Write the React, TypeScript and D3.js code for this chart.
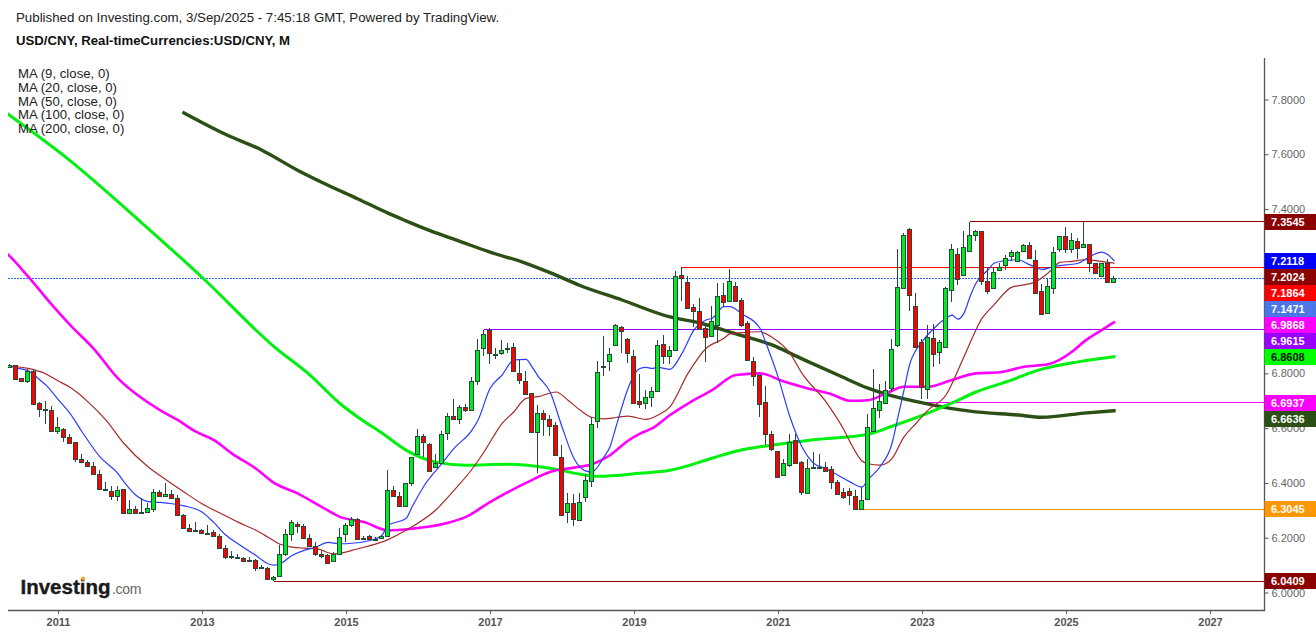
import { useEffect, useRef } from 'react';
import * as d3 from 'd3';

// monthly candles, index 0 = May 2010, index 8 = Jan 2011
const opens = [
  6.824, 6.829, 6.782, 6.773, 6.807, 6.691, 6.670, 6.668, 6.590, 6.598,
  6.566, 6.548, 6.489, 6.478, 6.463, 6.434, 6.379, 6.372, 6.352, 6.379,
  6.290, 6.306, 6.291, 6.294, 6.305, 6.368, 6.352, 6.361, 6.346, 6.284,
  6.237, 6.226, 6.229, 6.218, 6.222, 6.207, 6.163, 6.132, 6.130, 6.127,
  6.117, 6.120, 6.093, 6.090, 6.049, 6.059, 6.141, 6.215, 6.251, 6.244,
  6.200, 6.170, 6.141, 6.138, 6.115, 6.141, 6.215, 6.248, 6.270, 6.197,
  6.207, 6.195, 6.200, 6.207, 6.376, 6.354, 6.317, 6.398, 6.507, 6.573,
  6.544, 6.459, 6.474, 6.583, 6.646, 6.632, 6.679, 6.667, 6.774, 6.891,
  6.957, 6.870, 6.876, 6.888, 6.895, 6.800, 6.774, 6.727, 6.587, 6.654,
  6.635, 6.610, 6.496, 6.294, 6.328, 6.265, 6.349, 6.407, 6.627, 6.826,
  6.844, 6.905, 6.970, 6.926, 6.862, 6.701, 6.693, 6.712, 6.734, 6.906,
  6.865, 6.884, 7.159, 7.133, 7.041, 7.027, 6.965, 6.938, 6.976, 7.085,
  7.063, 7.118, 7.067, 6.983, 6.844, 6.793, 6.694, 6.577, 6.515, 6.430,
  6.466, 6.555, 6.478, 6.365, 6.460, 6.460, 6.460, 6.450, 6.405, 6.368,
  6.372, 6.354, 6.305, 6.343, 6.590, 6.667, 6.693, 6.748, 6.905, 7.111,
  7.327, 7.045, 6.913, 6.744, 6.928, 6.879, 6.895, 7.106, 7.235, 7.161,
  7.246, 7.305, 7.320, 7.137, 7.111, 7.179, 7.195, 7.228, 7.210, 7.246,
  7.268, 7.213, 7.100, 7.020, 7.113, 7.254, 7.301, 7.254, 7.283, 7.261,
  7.272, 7.202, 7.157, 7.202, 7.133,
];
const closes = [
  6.830, 6.780, 6.773, 6.807, 6.688, 6.671, 6.668, 6.590, 6.606, 6.568,
  6.546, 6.488, 6.477, 6.462, 6.433, 6.378, 6.378, 6.352, 6.376, 6.290,
  6.305, 6.290, 6.294, 6.310, 6.368, 6.352, 6.360, 6.345, 6.283, 6.235,
  6.224, 6.228, 6.217, 6.217, 6.206, 6.162, 6.129, 6.133, 6.127, 6.115,
  6.116, 6.089, 6.089, 6.049, 6.057, 6.141, 6.215, 6.257, 6.244, 6.199,
  6.170, 6.140, 6.133, 6.109, 6.140, 6.202, 6.248, 6.268, 6.196, 6.199,
  6.195, 6.196, 6.207, 6.376, 6.352, 6.317, 6.398, 6.493, 6.573, 6.550,
  6.445, 6.474, 6.580, 6.646, 6.634, 6.676, 6.667, 6.774, 6.884, 6.943,
  6.876, 6.866, 6.884, 6.891, 6.810, 6.777, 6.723, 6.587, 6.654, 6.632,
  6.607, 6.502, 6.283, 6.328, 6.268, 6.332, 6.409, 6.617, 6.805, 6.828,
  6.870, 6.977, 6.956, 6.876, 6.693, 6.689, 6.712, 6.734, 6.902, 6.865,
  6.884, 7.155, 7.148, 7.037, 7.029, 6.961, 6.934, 6.990, 7.082, 7.059,
  7.137, 7.066, 6.976, 6.848, 6.789, 6.689, 6.577, 6.524, 6.423, 6.471,
  6.550, 6.471, 6.367, 6.456, 6.459, 6.459, 6.444, 6.405, 6.361, 6.350,
  6.357, 6.305, 6.339, 6.606, 6.672, 6.698, 6.741, 6.888, 7.115, 7.305,
  7.088, 6.898, 6.751, 6.932, 6.870, 6.913, 7.111, 7.254, 7.144, 7.261,
  7.305, 7.320, 7.137, 7.099, 7.170, 7.188, 7.221, 7.243, 7.243, 7.268,
  7.221, 7.093, 7.018, 7.118, 7.243, 7.301, 7.254, 7.287, 7.257, 7.272,
  7.202, 7.165, 7.202, 7.133, 7.147,
];
const highs = [
  6.833, 6.832, 6.784, 6.815, 6.817, 6.696, 6.698, 6.680, 6.639, 6.600,
  6.577, 6.551, 6.507, 6.485, 6.476, 6.446, 6.404, 6.388, 6.388, 6.379,
  6.339, 6.315, 6.345, 6.328, 6.378, 6.376, 6.398, 6.376, 6.356, 6.288,
  6.249, 6.256, 6.232, 6.245, 6.229, 6.212, 6.173, 6.150, 6.141, 6.129,
  6.129, 6.121, 6.099, 6.093, 6.060, 6.172, 6.233, 6.266, 6.257, 6.249,
  6.215, 6.183, 6.151, 6.139, 6.149, 6.234, 6.254, 6.276, 6.273, 6.207,
  6.210, 6.202, 6.210, 6.449, 6.388, 6.368, 6.398, 6.493, 6.596, 6.580,
  6.546, 6.507, 6.588, 6.654, 6.706, 6.683, 6.688, 6.788, 6.926, 6.959,
  6.965, 6.891, 6.922, 6.910, 6.910, 6.849, 6.809, 6.729, 6.684, 6.666,
  6.648, 6.624, 6.537, 6.365, 6.361, 6.363, 6.434, 6.641, 6.844, 6.937,
  6.891, 6.979, 6.973, 6.928, 6.884, 6.798, 6.741, 6.751, 6.922, 6.939,
  6.899, 7.174, 7.188, 7.154, 7.052, 7.074, 6.977, 7.046, 7.129, 7.129,
  7.180, 7.135, 7.074, 6.991, 6.859, 6.794, 6.754, 6.589, 6.515, 6.489,
  6.580, 6.577, 6.479, 6.488, 6.512, 6.505, 6.476, 6.461, 6.410, 6.383,
  6.383, 6.373, 6.385, 6.651, 6.816, 6.763, 6.773, 6.924, 7.254, 7.312,
  7.332, 7.093, 6.924, 6.977, 6.980, 6.922, 7.115, 7.273, 7.259, 7.321,
  7.3545, 7.322, 7.321, 7.190, 7.190, 7.202, 7.233, 7.251, 7.246, 7.273,
  7.279, 7.251, 7.126, 7.145, 7.261, 7.301, 7.334, 7.312, 7.294, 7.3545,
  7.273, 7.202, 7.202, 7.217, 7.154,
];
const lows = [
  6.824, 6.780, 6.770, 6.766, 6.685, 6.639, 6.617, 6.590, 6.578, 6.550,
  6.546, 6.476, 6.476, 6.461, 6.432, 6.377, 6.378, 6.337, 6.334, 6.290,
  6.290, 6.290, 6.287, 6.293, 6.293, 6.351, 6.349, 6.345, 6.283, 6.235,
  6.221, 6.224, 6.213, 6.217, 6.206, 6.162, 6.123, 6.122, 6.124, 6.112,
  6.115, 6.080, 6.087, 6.049, 6.041, 6.059, 6.135, 6.187, 6.217, 6.198,
  6.168, 6.132, 6.127, 6.107, 6.112, 6.140, 6.185, 6.239, 6.190, 6.190,
  6.190, 6.190, 6.196, 6.207, 6.351, 6.316, 6.317, 6.389, 6.505, 6.493,
  6.444, 6.457, 6.471, 6.556, 6.633, 6.615, 6.660, 6.667, 6.759, 6.863,
  6.834, 6.852, 6.867, 6.873, 6.809, 6.761, 6.722, 6.583, 6.437, 6.571,
  6.571, 6.502, 6.283, 6.254, 6.243, 6.262, 6.329, 6.385, 6.600, 6.790,
  6.809, 6.904, 6.873, 6.837, 6.693, 6.673, 6.670, 6.678, 6.733, 6.834,
  6.834, 6.884, 7.065, 7.037, 6.971, 6.961, 6.843, 6.937, 6.912, 7.044,
  7.061, 7.063, 6.968, 6.846, 6.754, 6.641, 6.538, 6.517, 6.422, 6.429,
  6.459, 6.470, 6.356, 6.363, 6.456, 6.456, 6.444, 6.379, 6.361, 6.343,
  6.318, 6.305, 6.3045, 6.341, 6.590, 6.637, 6.693, 6.733, 6.898, 7.111,
  7.029, 6.898, 6.705, 6.707, 6.822, 6.834, 6.894, 7.059, 7.123, 7.160,
  7.245, 7.282, 7.122, 7.091, 7.110, 7.178, 7.178, 7.209, 7.209, 7.244,
  7.217, 7.089, 7.016, 7.018, 7.090, 7.243, 7.239, 7.239, 7.218, 7.260,
  7.171, 7.162, 7.154, 7.132, 7.132,
];

// moving averages: month index and price
const ma9Months = [
  0, 1, 3, 4, 5, 6, 8, 10, 12, 15, 18, 19, 21, 23, 25, 27, 29, 32, 34, 36, 38, 41, 43, 44, 45, 47, 49, 51, 53, 55, 56,
  60, 62, 63, 66, 67, 69, 72, 74, 77, 78, 80, 82, 84, 86, 87, 88, 90, 92, 94, 96, 97, 99, 100, 101, 103, 104, 105, 106,
  107, 108, 110, 112, 114, 116, 117, 119, 120, 122, 125, 126, 128, 130, 132, 134, 136, 138, 140, 142, 143, 145, 147,
  148, 149, 150, 151, 152, 154, 156, 157, 158, 159, 160, 161, 163, 164, 166, 168, 170, 172, 174, 176, 178, 180, 182, 183, 184,
];
const ma9Values = [
  6.827, 6.820, 6.810, 6.794, 6.776, 6.757, 6.705, 6.654, 6.587, 6.495, 6.434, 6.404, 6.355, 6.332, 6.329, 6.324, 6.316,
  6.294, 6.255, 6.209, 6.178, 6.135, 6.105, 6.100, 6.105, 6.135, 6.154, 6.166, 6.183, 6.178, 6.178,
  6.190, 6.209, 6.245, 6.270, 6.312, 6.389, 6.471, 6.526, 6.593, 6.629, 6.745, 6.794, 6.849, 6.851, 6.824, 6.790, 6.733,
  6.605, 6.489, 6.443, 6.440, 6.495, 6.532, 6.605, 6.745, 6.794, 6.818, 6.822,
  6.818, 6.822, 6.815, 6.873, 6.959, 6.995, 7.001, 7.044, 7.044, 7.017, 6.965, 6.910, 6.788, 6.641, 6.532, 6.471, 6.452,
  6.428, 6.404, 6.385, 6.412, 6.459, 6.544,
  6.641, 6.739, 6.837, 6.885, 6.916, 6.965, 7.001, 7.013, 6.998, 7.020, 7.080, 7.129, 7.178, 7.202, 7.212, 7.215, 7.196,
  7.180, 7.190, 7.196, 7.202, 7.227, 7.243, 7.233, 7.2118,
];
const ma20Months = [
  0, 3, 6, 8, 10, 13, 16, 19, 23, 26, 29, 32, 35, 38, 41, 43, 45, 47, 49, 51, 54, 56, 57,
  63, 66, 71, 74, 77, 79, 82, 84, 86, 88, 91, 93, 95, 97, 99, 101, 103, 106, 108, 110, 113, 116, 119, 120, 122, 125,
  127, 130, 132, 136, 139, 140, 142, 143, 145, 147, 149, 151, 153, 156, 159, 162, 164, 167, 169, 171, 173, 175, 177, 179, 181, 183, 184,
];
const ma20Values = [
  6.827, 6.818, 6.798, 6.773, 6.749, 6.696, 6.629, 6.544, 6.459, 6.412, 6.367, 6.324, 6.290, 6.257, 6.227, 6.202, 6.176,
  6.166, 6.162, 6.160, 6.141, 6.148, 6.154,
  6.193, 6.227, 6.302, 6.373, 6.450, 6.513, 6.617, 6.660, 6.709, 6.715, 6.732, 6.702, 6.666, 6.639, 6.634, 6.639, 6.644,
  6.632, 6.648, 6.678, 6.800, 6.891, 6.928, 6.944, 6.949, 6.952,
  6.932, 6.873, 6.800, 6.696, 6.593, 6.550, 6.480, 6.470, 6.465, 6.489, 6.568, 6.617, 6.666, 6.721, 6.861, 7.001, 7.050,
  7.115, 7.123, 7.135, 7.166, 7.205, 7.209, 7.215, 7.212, 7.205, 7.2024,
];
const ma50Months = [
  -1, 0, 3, 7, 10, 14, 18, 22, 25, 28, 31, 34, 37, 41, 44, 48, 52, 55, 59, 63, 67, 72, 76, 80, 86, 90, 94, 97, 100, 103,
  105, 107, 110, 113, 117, 121, 125, 129, 133, 137, 140, 143, 146, 149, 153, 157, 161, 165, 169, 173, 177, 179, 182, 184,
];
const ma50Values = [
  7.248, 7.227, 7.154, 7.050, 6.977, 6.889, 6.782, 6.709, 6.666, 6.629, 6.587, 6.556, 6.507, 6.452, 6.400, 6.361, 6.312,
  6.276, 6.257, 6.227, 6.233, 6.249, 6.276, 6.330, 6.400, 6.440, 6.456, 6.468, 6.501, 6.554,
  6.580, 6.599, 6.648, 6.690, 6.739, 6.794, 6.800, 6.770, 6.745, 6.723, 6.700, 6.702, 6.727, 6.751, 6.751, 6.776, 6.800,
  6.804, 6.824, 6.833, 6.879, 6.916, 6.959, 6.9868,
];
const ma100Months = [
  -1, 10, 22, 32, 44, 50, 55, 58, 62, 66, 71, 76, 83, 90, 95, 98, 105, 110, 117, 121, 127, 135, 143, 147, 153, 157, 161, 167, 171, 178, 184,
];
const ma100Values = [
  7.757, 7.577, 7.349, 7.151, 6.898, 6.794, 6.690, 6.640, 6.582, 6.520, 6.476, 6.465, 6.468, 6.454, 6.432, 6.424,
  6.435, 6.446, 6.490, 6.516, 6.538, 6.560, 6.578, 6.607, 6.655, 6.692, 6.732, 6.776, 6.809, 6.842, 6.8608,
];
const ma200Months = [
  29, 36, 42, 48, 53, 58, 63, 66, 70, 75, 80, 86, 90, 95, 102, 110, 115, 121, 127, 132, 138, 143, 146, 153, 160, 168, 172, 179, 184,
];
const ma200Values = [
  7.751, 7.672, 7.615, 7.541, 7.487, 7.437, 7.385, 7.357, 7.321, 7.282, 7.243, 7.202, 7.168, 7.121,
  7.068, 7.006, 6.984, 6.944, 6.904, 6.853, 6.794, 6.746, 6.724, 6.688, 6.662, 6.648, 6.640, 6.655, 6.6636,
];

// horizontal levels, they start at a month and run to the price axis
const levelValues = [7.3545, 7.1864, 6.9615, 6.6937, 6.3045, 6.0409];
const levelStarts = [160, 112, 79, 152, 141, 44];
const levelColors = ['#8b0000', '#ff0000', '#9900ff', '#ff00ff', '#ff9800', '#8b0000'];
const lastPrice = 7.1471;

// flags on the price axis, top to bottom
const flagValues = [7.3545, 7.2118, 7.2024, 7.1864, 7.1471, 6.9868, 6.9615, 6.8608, 6.6937, 6.6636, 6.3045, 6.0409];
const flagColors = [
  '#8b0000', '#0000ff', '#8b0000', '#ff0000', '#4a76e8', '#ff00ff', '#9900ff', '#00ff00', '#ff00ff', '#2b4f14', '#ff9800', '#8b0000',
];
const flagText = ['#fff', '#fff', '#fff', '#fff', '#fff', '#fff', '#fff', '#111', '#fff', '#fff', '#fff', '#fff'];

// 7.0 and 7.2 sit behind the flags in the picture
const priceTicks = [6, 6.2, 6.4, 6.6, 6.8, 7.4, 7.6, 7.8];
const yearTicks = [2011, 2013, 2015, 2017, 2019, 2021, 2023, 2025, 2027];
const legendLabels = ['MA (9, close, 0)', 'MA (20, close, 0)', 'MA (50, close, 0)', 'MA (100, close, 0)', 'MA (200, close, 0)'];

const FONT = '"Liberation Sans", Arial, sans-serif';
const WICK = '#274a38';
const UP = '#00e826';
const DOWN = '#ff0000';

export default function App() {
  const svgRef = useRef<SVGSVGElement>(null);

  useEffect(() => {
    if (!svgRef.current) return;
    d3.select(svgRef.current).selectAll('*').remove();

    const left = 8;
    const right = 1264.5;
    const top = 58;
    const bottom = 610;

    const svg = d3.select(svgRef.current).style('font-family', FONT);

    const x = d3.scaleLinear().domain([8, 184]).range([58, 1114]);
    const y = d3.scaleLinear().domain([6, 7.8]).range([592.5, 99.5]);
    const row = (v: number) => Math.floor(v) + 0.5;
    const snap = (v: number) => Math.round(v) + 0.5;

    svg
      .append('defs')
      .append('clipPath')
      .attr('id', 'plot')
      .append('rect')
      .attr('x', left)
      .attr('y', top)
      .attr('width', right - left)
      .attr('height', bottom - top);

    const plot = svg.append('g').attr('clip-path', 'url(#plot)');

    // Levels and last price
    levelValues.forEach((v, i) => {
      plot
        .append('line')
        .attr('x1', x(levelStarts[i]))
        .attr('x2', right)
        .attr('y1', row(y(v)))
        .attr('y2', row(y(v)))
        .attr('stroke', levelColors[i])
        .attr('stroke-width', 1);
    });
    plot
      .append('line')
      .attr('x1', left)
      .attr('x2', right)
      .attr('y1', row(y(lastPrice)))
      .attr('y2', row(y(lastPrice)))
      .attr('stroke', '#2962ff')
      .attr('stroke-dasharray', '2,1');

    // Moving averages
    const line = d3
      .line<number>()
      .x((d) => x(d))
      .curve(d3.curveMonotoneX);

    const drawMa = (months: number[], values: number[], color: string, width: number) => {
      plot
        .append('path')
        .datum(months)
        .attr('fill', 'none')
        .attr('stroke', color)
        .attr('stroke-width', width)
        .attr('stroke-linejoin', 'round')
        .attr('stroke-linecap', 'square')
        .attr('d', line.y((_, i) => y(values[i])));
    };
    drawMa(ma200Months, ma200Values, '#2b4f14', 3.4);
    drawMa(ma100Months, ma100Values, '#00f010', 3);
    drawMa(ma50Months, ma50Values, '#ff00ff', 2.6);
    drawMa(ma20Months, ma20Values, '#a52a2a', 1.2);
    drawMa(ma9Months, ma9Values, '#2a3cff', 1.2);

    // Candles
    const candles = plot.append('g').attr('shape-rendering', 'crispEdges');
    const months = d3.range(opens.length);
    candles
      .selectAll('line')
      .data(months)
      .enter()
      .append('line')
      .attr('x1', (i) => x(i) - 0.5)
      .attr('x2', (i) => x(i) - 0.5)
      .attr('y1', (i) => y(highs[i]))
      .attr('y2', (i) => y(lows[i]))
      .attr('stroke', WICK);
    candles
      .selectAll('rect')
      .data(months)
      .enter()
      .append('rect')
      .attr('x', (i) => x(i) - 2.5)
      .attr('width', 4)
      .attr('y', (i) => snap(y(Math.max(opens[i], closes[i]))))
      .attr('height', (i) =>
        Math.max(1, Math.round(y(Math.min(opens[i], closes[i]))) - Math.round(y(Math.max(opens[i], closes[i]))))
      )
      .attr('fill', (i) => (closes[i] >= opens[i] ? UP : DOWN))
      .attr('stroke', WICK);

    // Price axis
    const yAxis = svg
      .append('g')
      .attr('transform', `translate(${right},0)`)
      .call(
        d3
          .axisRight(y)
          .tickValues(priceTicks)
          .tickSize(4)
          .tickPadding(3)
          .tickFormat(d3.format('.4f') as any)
      );
    yAxis.select('.domain').remove();
    yAxis.selectAll('line').attr('stroke', '#555');
    yAxis.selectAll('text').attr('fill', '#666').style('font-size', '11px').style('font-family', FONT);

    // Time axis
    const xAxis = svg
      .append('g')
      .attr('transform', `translate(0,${bottom})`)
      .call(
        d3
          .axisBottom(x)
          .tickValues(yearTicks.map((yr) => (yr - 2011) * 12 + 8))
          .tickSize(4)
          .tickPadding(4)
          .tickFormat((m: any) => String(2011 + (m - 8) / 12))
      );
    xAxis.select('.domain').remove();
    xAxis.selectAll('line').attr('stroke', '#555');
    xAxis
      .selectAll('text')
      .attr('fill', '#555')
      .style('font-size', '11px')
      .style('font-weight', 'bold')
      .style('font-family', FONT);

    svg
      .append('path')
      .attr('d', `M${left},${bottom}.5H${right}V${top}`)
      .attr('fill', 'none')
      .attr('stroke', '#555')
      .attr('stroke-width', 1.3);

    // Flags on the axis, pushed down when they would overlap
    let nextTop = -Infinity;
    flagValues.forEach((v, i) => {
      const boxTop = Math.max(Math.round(y(v)) - 8, nextTop);
      nextTop = boxTop + 16;
      svg
        .append('rect')
        .attr('x', right)
        .attr('y', boxTop)
        .attr('width', 1316 - right)
        .attr('height', 16)
        .attr('fill', flagColors[i]);
      svg
        .append('text')
        .attr('x', 1271)
        .attr('y', boxTop + 12)
        .attr('fill', flagText[i])
        .style('font-size', '11px')
        .style('font-weight', 'bold')
        .text(v.toFixed(4));
    });

    // Titles
    svg
      .append('text')
      .attr('x', 16)
      .attr('y', 22)
      .attr('fill', '#222')
      .style('font-size', '13.3px')
      .text('Published on Investing.com, 3/Sep/2025 - 7:45:18 GMT, Powered by TradingView.');
    svg
      .append('text')
      .attr('x', 16)
      .attr('y', 45)
      .attr('fill', '#111')
      .style('font-size', '13.2px')
      .style('font-weight', 'bold')
      .text('USD/CNY, Real-timeCurrencies:USD/CNY, M');

    legendLabels.forEach((label, i) => {
      svg
        .append('text')
        .attr('x', 18)
        .attr('y', 78 + i * 13.8)
        .attr('fill', '#222')
        .style('font-size', '13.2px')
        .text(label);
    });

    // Watermark
    const logo = svg.append('g');
    logo
      .append('text')
      .attr('x', 20.5)
      .attr('y', 594)
      .attr('fill', '#1a1a1a')
      .attr('stroke', '#1a1a1a')
      .attr('stroke-width', 0.4)
      .style('font-size', '20.5px')
      .style('font-weight', 'bold')
      .text('Investing');
    logo
      .append('text')
      .attr('x', 112)
      .attr('y', 594)
      .attr('fill', '#666')
      .attr('letter-spacing', '-0.3')
      .style('font-size', '14px')
      .text('.com');
    logo.append('circle').attr('cx', 83).attr('cy', 578.5).attr('r', 2).attr('fill', '#ff9f1c');
  }, []);

  return <svg ref={svgRef} width={1316} height={634} style={{ position: 'absolute', left: 0, top: 0, display: 'block' }} />;
}
